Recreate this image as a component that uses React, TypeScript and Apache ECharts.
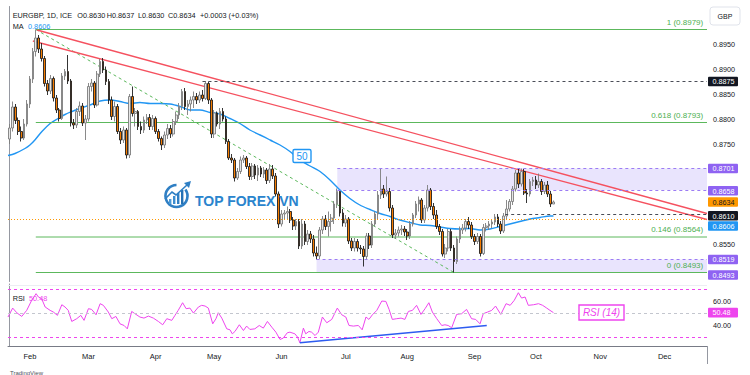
import React, { useEffect, useRef } from 'react';
import * as echarts from 'echarts';

const FONT = "'Liberation Sans', Arial, sans-serif";
const MONTHS = ['Jan', 'Feb', 'Mar', 'Apr', 'May', 'Jun', 'Jul', 'Aug', 'Sep', 'Oct', 'Nov', 'Dec'];
const FIRST_DAY = '2023-01-23';
const LAST_DAY = '2023-12-21';

// daily candles [open, close, low, high] from 2023-01-23 to 2023-10-10
const CANDLES: number[][] = [
  [0.8760, 0.8782, 0.8750, 0.8790], [0.8782, 0.8824, 0.8775, 0.8835], [0.8824, 0.8797, 0.8790, 0.8830],
  [0.8797, 0.8775, 0.8768, 0.8803], [0.8775, 0.8762, 0.8755, 0.8785], [0.8762, 0.8790, 0.8758, 0.8800],
  [0.8790, 0.8830, 0.8785, 0.8838], [0.8830, 0.8880, 0.8822, 0.8886], [0.8880, 0.8935, 0.8872, 0.8942],
  [0.8935, 0.8962, 0.8925, 0.8979], [0.8962, 0.8940, 0.8932, 0.8968], [0.8940, 0.8921, 0.8915, 0.8952],
  [0.8921, 0.8871, 0.8865, 0.8926], [0.8871, 0.8856, 0.8848, 0.8878], [0.8856, 0.8881, 0.8850, 0.8888],
  [0.8881, 0.8842, 0.8835, 0.8885], [0.8842, 0.8818, 0.8812, 0.8848], [0.8818, 0.8801, 0.8795, 0.8822],
  [0.8801, 0.8886, 0.8798, 0.8892], [0.8886, 0.8895, 0.8878, 0.8900], [0.8895, 0.8876, 0.8870, 0.8928],
  [0.8876, 0.8792, 0.8785, 0.8880], [0.8792, 0.8788, 0.8780, 0.8800], [0.8788, 0.8815, 0.8782, 0.8822],
  [0.8815, 0.8826, 0.8806, 0.8835], [0.8826, 0.8792, 0.8786, 0.8832], [0.8792, 0.8800, 0.8758, 0.8808],
  [0.8800, 0.8865, 0.8795, 0.8872], [0.8865, 0.8872, 0.8855, 0.8880], [0.8872, 0.8828, 0.8822, 0.8876],
  [0.8828, 0.8890, 0.8825, 0.8896], [0.8890, 0.8915, 0.8884, 0.8920], [0.8915, 0.8898, 0.8892, 0.8922],
  [0.8898, 0.8875, 0.8868, 0.8905], [0.8875, 0.8838, 0.8830, 0.8880], [0.8838, 0.8805, 0.8798, 0.8845],
  [0.8805, 0.8825, 0.8795, 0.8835], [0.8825, 0.8775, 0.8770, 0.8830], [0.8775, 0.8758, 0.8750, 0.8782],
  [0.8758, 0.8778, 0.8752, 0.8785], [0.8778, 0.8728, 0.8721, 0.8782], [0.8728, 0.8845, 0.8722, 0.8850],
  [0.8845, 0.8811, 0.8805, 0.8865], [0.8811, 0.8815, 0.8785, 0.8822], [0.8815, 0.8785, 0.8778, 0.8818],
  [0.8785, 0.8778, 0.8770, 0.8795], [0.8778, 0.8798, 0.8772, 0.8805], [0.8798, 0.8803, 0.8790, 0.8810],
  [0.8803, 0.8785, 0.8778, 0.8810], [0.8785, 0.8801, 0.8778, 0.8808], [0.8801, 0.8775, 0.8770, 0.8805],
  [0.8775, 0.8761, 0.8755, 0.8780], [0.8761, 0.8748, 0.8738, 0.8765], [0.8748, 0.8768, 0.8742, 0.8775],
  [0.8768, 0.8781, 0.8760, 0.8790], [0.8781, 0.8770, 0.8762, 0.8788], [0.8770, 0.8795, 0.8765, 0.8800],
  [0.8795, 0.8808, 0.8788, 0.8815], [0.8808, 0.8825, 0.8800, 0.8832], [0.8825, 0.8855, 0.8818, 0.8860],
  [0.8855, 0.8825, 0.8818, 0.8862], [0.8825, 0.8830, 0.8808, 0.8838], [0.8830, 0.8838, 0.8815, 0.8845],
  [0.8838, 0.8845, 0.8822, 0.8855], [0.8845, 0.8838, 0.8830, 0.8852], [0.8838, 0.8848, 0.8832, 0.8855],
  [0.8848, 0.8841, 0.8835, 0.8858], [0.8841, 0.8871, 0.8838, 0.8876], [0.8871, 0.8838, 0.8830, 0.8875],
  [0.8838, 0.8770, 0.8762, 0.8842], [0.8770, 0.8812, 0.8762, 0.8818], [0.8812, 0.8790, 0.8785, 0.8815],
  [0.8790, 0.8815, 0.8780, 0.8822], [0.8815, 0.8800, 0.8795, 0.8822], [0.8800, 0.8755, 0.8750, 0.8805],
  [0.8755, 0.8722, 0.8718, 0.8760], [0.8722, 0.8718, 0.8712, 0.8730], [0.8718, 0.8682, 0.8675, 0.8722],
  [0.8682, 0.8695, 0.8678, 0.8702], [0.8695, 0.8718, 0.8690, 0.8725], [0.8718, 0.8722, 0.8712, 0.8728],
  [0.8722, 0.8705, 0.8700, 0.8726], [0.8705, 0.8685, 0.8678, 0.8712], [0.8685, 0.8706, 0.8678, 0.8712],
  [0.8706, 0.8688, 0.8680, 0.8710], [0.8688, 0.8702, 0.8676, 0.8708], [0.8702, 0.8690, 0.8684, 0.8706],
  [0.8690, 0.8698, 0.8682, 0.8704], [0.8698, 0.8677, 0.8670, 0.8702], [0.8677, 0.8700, 0.8672, 0.8710],
  [0.8700, 0.8686, 0.8680, 0.8708], [0.8686, 0.8650, 0.8645, 0.8692], [0.8650, 0.8590, 0.8582, 0.8655],
  [0.8590, 0.8610, 0.8585, 0.8618], [0.8610, 0.8612, 0.8598, 0.8618], [0.8612, 0.8615, 0.8600, 0.8625],
  [0.8615, 0.8598, 0.8592, 0.8620], [0.8598, 0.8586, 0.8578, 0.8604], [0.8586, 0.8595, 0.8578, 0.8600],
  [0.8595, 0.8546, 0.8540, 0.8600], [0.8546, 0.8590, 0.8540, 0.8600], [0.8590, 0.8555, 0.8548, 0.8596],
  [0.8555, 0.8570, 0.8548, 0.8578], [0.8570, 0.8560, 0.8552, 0.8576], [0.8560, 0.8532, 0.8525, 0.8568],
  [0.8532, 0.8526, 0.8519, 0.8545], [0.8526, 0.8578, 0.8520, 0.8584], [0.8578, 0.8600, 0.8570, 0.8606],
  [0.8600, 0.8585, 0.8578, 0.8608], [0.8585, 0.8595, 0.8565, 0.8615], [0.8595, 0.8602, 0.8575, 0.8610],
  [0.8602, 0.8630, 0.8590, 0.8636], [0.8630, 0.8655, 0.8622, 0.8661], [0.8655, 0.8612, 0.8605, 0.8658],
  [0.8612, 0.8592, 0.8585, 0.8620], [0.8592, 0.8600, 0.8584, 0.8608], [0.8600, 0.8556, 0.8550, 0.8604],
  [0.8556, 0.8542, 0.8536, 0.8562], [0.8542, 0.8555, 0.8535, 0.8562], [0.8555, 0.8542, 0.8535, 0.8560],
  [0.8542, 0.8540, 0.8530, 0.8548], [0.8540, 0.8525, 0.8505, 0.8546], [0.8525, 0.8566, 0.8520, 0.8572],
  [0.8566, 0.8548, 0.8540, 0.8572], [0.8548, 0.8590, 0.8542, 0.8596], [0.8590, 0.8610, 0.8585, 0.8615],
  [0.8610, 0.8648, 0.8600, 0.8656], [0.8648, 0.8660, 0.8640, 0.8701], [0.8660, 0.8650, 0.8642, 0.8668],
  [0.8650, 0.8655, 0.8645, 0.8685], [0.8655, 0.8622, 0.8615, 0.8662], [0.8622, 0.8568, 0.8562, 0.8628],
  [0.8568, 0.8572, 0.8560, 0.8580], [0.8572, 0.8578, 0.8565, 0.8585], [0.8578, 0.8580, 0.8568, 0.8588],
  [0.8580, 0.8574, 0.8566, 0.8586], [0.8574, 0.8566, 0.8558, 0.8580], [0.8566, 0.8590, 0.8560, 0.8596],
  [0.8590, 0.8608, 0.8585, 0.8612], [0.8608, 0.8630, 0.8602, 0.8636], [0.8630, 0.8638, 0.8615, 0.8645],
  [0.8638, 0.8598, 0.8592, 0.8642], [0.8598, 0.8622, 0.8592, 0.8628], [0.8622, 0.8658, 0.8615, 0.8668],
  [0.8658, 0.8625, 0.8618, 0.8662], [0.8625, 0.8608, 0.8600, 0.8632], [0.8608, 0.8585, 0.8580, 0.8618],
  [0.8585, 0.8575, 0.8568, 0.8590], [0.8575, 0.8530, 0.8525, 0.8580], [0.8530, 0.8542, 0.8522, 0.8550],
  [0.8542, 0.8575, 0.8535, 0.8580], [0.8575, 0.8542, 0.8536, 0.8580], [0.8542, 0.8515, 0.8493, 0.8548],
  [0.8515, 0.8560, 0.8510, 0.8565], [0.8560, 0.8578, 0.8552, 0.8585], [0.8578, 0.8582, 0.8570, 0.8590],
  [0.8582, 0.8595, 0.8575, 0.8600], [0.8595, 0.8588, 0.8580, 0.8604], [0.8588, 0.8565, 0.8560, 0.8594],
  [0.8565, 0.8555, 0.8548, 0.8570], [0.8555, 0.8565, 0.8550, 0.8572], [0.8565, 0.8531, 0.8525, 0.8570],
  [0.8531, 0.8583, 0.8528, 0.8590], [0.8583, 0.8586, 0.8575, 0.8592], [0.8586, 0.8590, 0.8578, 0.8596],
  [0.8590, 0.8594, 0.8582, 0.8600], [0.8594, 0.8604, 0.8588, 0.8610], [0.8604, 0.8590, 0.8584, 0.8610],
  [0.8590, 0.8576, 0.8570, 0.8596], [0.8576, 0.8606, 0.8572, 0.8612], [0.8606, 0.8620, 0.8598, 0.8638],
  [0.8620, 0.8635, 0.8615, 0.8640], [0.8635, 0.8660, 0.8628, 0.8666], [0.8660, 0.8692, 0.8655, 0.8698],
  [0.8692, 0.8670, 0.8662, 0.8700], [0.8670, 0.8695, 0.8665, 0.8701], [0.8695, 0.8652, 0.8648, 0.8700],
  [0.8652, 0.8650, 0.8632, 0.8660], [0.8650, 0.8675, 0.8645, 0.8680], [0.8675, 0.8678, 0.8666, 0.8684],
  [0.8678, 0.8668, 0.8660, 0.8686], [0.8668, 0.8675, 0.8662, 0.8691], [0.8675, 0.8655, 0.8648, 0.8680],
  [0.8655, 0.8668, 0.8650, 0.8674], [0.8668, 0.8650, 0.8644, 0.8676], [0.8650, 0.8630, 0.8624, 0.8656],
  [0.8630, 0.8634, 0.8630, 0.8637],
];

// 50-day MA: [bar position, value]
const MA_POINTS: number[][] = [
  [-0.5, 0.8727], [1.9, 0.8731], [5.3, 0.8741], [7.0, 0.8748], [8.7, 0.8758], [11.1, 0.8775], [13.9, 0.8791],
  [16.6, 0.8801], [19.0, 0.8809], [21.4, 0.8815], [24.1, 0.8821], [27.5, 0.8828], [31.0, 0.8836], [34.4, 0.8838],
  [37.8, 0.8835], [41.2, 0.8831], [44.6, 0.8833], [48.1, 0.8831], [51.5, 0.8831], [54.9, 0.8830], [58.3, 0.8825],
  [61.7, 0.8818], [65.1, 0.8818], [68.6, 0.8813], [72.0, 0.8810], [75.4, 0.8801], [78.8, 0.8791], [82.2, 0.8778],
  [85.7, 0.8768], [89.1, 0.8758], [92.5, 0.8748], [95.9, 0.8735], [99.3, 0.8718], [102.8, 0.8706], [106.2, 0.8695],
  [109.6, 0.8678], [113.0, 0.8658], [116.4, 0.8641], [119.8, 0.8628], [123.3, 0.8619], [126.7, 0.8611],
  [130.1, 0.8605], [133.5, 0.8598], [136.9, 0.8593], [140.4, 0.8588], [143.8, 0.8587], [147.2, 0.8584],
  [150.6, 0.8581], [154.0, 0.8580], [157.4, 0.8581], [160.9, 0.8578], [164.3, 0.8580], [167.7, 0.8585],
  [171.1, 0.8590], [174.5, 0.8595], [178.0, 0.8600], [181.4, 0.8603], [184.8, 0.8606], [186.0, 0.8606],
];

// RSI(14): [bar position, value]
const RSI_POINTS: number[][] = [
  [-0.5, 46.8], [1.1, 54.3], [2.5, 50.4], [4.2, 47.3], [5.9, 52.4], [7.6, 60.8], [9.1, 66.4], [9.9, 63.6],
  [11.0, 62.2], [12.2, 55.2], [13.9, 52.4], [15.0, 51.0], [16.4, 48.2], [17.9, 57.1], [19.0, 55.2], [20.1, 52.4],
  [21.3, 43.1], [23.0, 45.4], [24.4, 48.2], [25.5, 44.0], [27.0, 53.8], [28.1, 53.2], [29.6, 48.7], [31.0, 58.0],
  [32.1, 56.6], [33.8, 51.0], [35.0, 45.4], [36.4, 47.3], [37.8, 41.1], [39.2, 39.7], [40.3, 36.9], [41.8, 51.5],
  [42.9, 49.6], [44.6, 46.8], [46.0, 45.9], [47.5, 47.6], [49.2, 45.9], [50.9, 43.1], [52.4, 40.3], [53.8, 45.4],
  [55.5, 44.0], [56.6, 48.2], [57.7, 52.4], [59.2, 58.8], [60.4, 53.8], [61.7, 54.3], [62.9, 50.1], [64.6, 55.2],
  [65.7, 56.6], [66.9, 56.0], [68.0, 54.3], [69.5, 41.1], [70.6, 45.4], [71.4, 50.4], [72.6, 45.9], [74.3, 36.9],
  [75.4, 36.1], [76.2, 32.7], [77.1, 34.7], [78.6, 40.3], [80.0, 35.5], [81.1, 39.2], [82.2, 36.4], [83.9, 36.9],
  [85.4, 39.7], [86.8, 37.5], [88.2, 43.1], [89.7, 38.3], [91.1, 34.1], [92.5, 28.0], [93.6, 29.1], [95.0, 33.6],
  [95.9, 34.1], [97.6, 32.7], [98.5, 30.0], [99.3, 25.2], [100.5, 37.5], [101.3, 32.7], [102.4, 34.7],
  [103.3, 34.1], [104.5, 31.3], [105.6, 34.1], [107.0, 46.8], [108.5, 42.0], [110.2, 44.8], [112.1, 54.3],
  [113.6, 48.7], [115.0, 46.8], [116.1, 39.7], [117.6, 39.2], [119.3, 39.7], [120.6, 36.1], [121.9, 46.8],
  [122.9, 44.8], [124.1, 48.7], [125.6, 52.4], [127.3, 60.2], [128.7, 59.9], [129.8, 53.2], [130.9, 44.8],
  [132.4, 45.4], [133.9, 45.9], [135.2, 44.8], [136.4, 51.5], [137.8, 52.4], [139.2, 56.6], [140.7, 49.0],
  [142.1, 53.8], [143.4, 58.8], [144.6, 51.0], [146.1, 45.4], [147.8, 39.7], [148.9, 40.3], [150.0, 39.7],
  [151.2, 37.8], [152.9, 49.0], [154.6, 49.6], [156.3, 53.2], [158.0, 45.4], [159.4, 44.8], [160.9, 41.1],
  [162.0, 49.6], [163.5, 51.0], [164.9, 52.4], [166.2, 56.0], [168.0, 49.0], [169.8, 58.0], [171.2, 56.6],
  [172.6, 60.8], [174.0, 67.2], [175.1, 62.7], [176.3, 63.6], [177.4, 56.6], [179.2, 57.1], [180.9, 58.0],
  [182.3, 56.6], [183.7, 54.3], [184.8, 52.4], [186.0, 50.48],
];

const PRICE_TICKS = ['0.8950', '0.8900', '0.8850', '0.8800', '0.8750', '0.8550'];
const RSI_TICKS = ['40.00', '60.00'];
const RSI_BANDS = [70, 50, 30];

const FIB_RATIOS = ['1', '0.618', '0.146', '0'];
const FIB_PRICES = [0.8979, 0.8793, 0.8564, 0.8493];
const FIB_FROM = 9;
const FIB_DIAGONAL = [[9, 0.8979], [152, 0.8493]];
const TREND_UPPER = [[9.4, 0.8978], [238.5, 0.8611]];
const TREND_LOWER = [[8.0, 0.8956], [238.5, 0.8599]];
const RSI_TREND = [[99.3, 25.2], [163.2, 39.7]];
const ZONE_HIGH = [112.1, 0.8701, 0.8658];
const ZONE_LOW = [105.0, 0.8519, 0.8493];
const LEVEL_APRIL = [66, 0.8875];
const LEVEL_SEPT = [169.5, 0.8610];
const LAST_PRICE = 0.8634;
const MA_LAST = 0.8606;

function weekdays(from: string, to: string): string[] {
  const out: string[] = [];
  const d = new Date(from + 'T00:00:00Z');
  const end = new Date(to + 'T00:00:00Z');
  while (d <= end) {
    const wd = d.getUTCDay();
    if (wd !== 0 && wd !== 6) out.push(d.toISOString().slice(0, 10));
    d.setUTCDate(d.getUTCDate() + 1);
  }
  return out;
}

const DATES = weekdays(FIRST_DAY, LAST_DAY);
const XMAX = DATES.length - 0.5;

const RED = '#f5515f';
const GREEN = '#4caf50';
const BLUE = '#2196f3';
const PURPLE = '#8f63f2';
const MAGENTA = '#ee45ee';
const INK = '#131722';

export default function App() {
  const ref = useRef<HTMLDivElement>(null);

  useEffect(() => {
    if (!ref.current) return;
    const chart = echarts.init(ref.current, undefined, { renderer: 'svg' });

    const seg = (name: string, pts: number[][], color: string, width: number, type: any = 'solid', xi = 1, yi = 0) => ({
      name, type: 'line', xAxisIndex: xi, yAxisIndex: yi, data: pts, symbol: 'none', silent: true,
      lineStyle: { color, width, type }, z: 3,
    });

    const option: any = {
      animation: false,
      backgroundColor: '#ffffff',
      textStyle: { fontFamily: FONT },
      grid: [
        { left: 8, right: 43, top: 6.5, height: 275 },
        { left: 8, right: 43, top: 284, height: 62 },
      ],
      xAxis: [
        { type: 'category', gridIndex: 0, data: DATES, boundaryGap: true, show: false },
        { type: 'value', gridIndex: 0, min: -0.5, max: XMAX, show: false },
        {
          type: 'category', gridIndex: 1, data: DATES, boundaryGap: true,
          axisLine: { show: true, lineStyle: { color: '#787b86', width: 1 } },
          axisTick: { show: false },
          splitLine: { show: false },
          axisLabel: {
            interval: (i: number, v: string) => i > 0 && v.slice(5, 7) !== DATES[i - 1].slice(5, 7),
            formatter: (v: string) => MONTHS[parseInt(v.slice(5, 7), 10) - 1],
            fontSize: 7.5, color: INK, margin: 6, fontFamily: FONT,
          },
        },
        { type: 'value', gridIndex: 1, min: -0.5, max: XMAX, show: false },
      ],
      yAxis: [
        {
          type: 'value', gridIndex: 0, position: 'right', min: 0.8475, max: 0.9025, interval: 0.0025,
          axisLine: { show: true, lineStyle: { color: '#9598a1' } },
          axisTick: { show: false }, splitLine: { show: false },
          axisLabel: {
            formatter: (v: number) => { const s = v.toFixed(4); return PRICE_TICKS.includes(s) ? s : ''; },
            fontSize: 7.2, color: INK, margin: 6, fontFamily: FONT,
          },
        },
        {
          type: 'value', gridIndex: 1, position: 'right', min: 22.5, max: 74.5, interval: 2.5,
          axisLine: { show: true, lineStyle: { color: '#9598a1' } },
          axisTick: { show: false }, splitLine: { show: false },
          axisLabel: {
            formatter: (v: number) => { const s = v.toFixed(2); return RSI_TICKS.includes(s) ? s : ''; },
            fontSize: 7.2, color: INK, margin: 6, fontFamily: FONT,
          },
        },
      ],
      series: [
        {
          name: 'EURGBP', type: 'candlestick', xAxisIndex: 0, yAxisIndex: 0, data: CANDLES,
          barWidth: 2.2, z: 4,
          itemStyle: { color: '#e6e6e6', color0: '#f57c00', borderColor: '#7d7d7d', borderColor0: '#1e1e1e', borderWidth: 0.9 },
          markLine: {
            silent: true, symbol: ['none', 'none'], label: { show: false },
            lineStyle: { color: '#ff9800', type: [1, 2], width: 1 },
            data: [{ yAxis: LAST_PRICE }],
          },
        },
        {
          name: 'MA', type: 'line', xAxisIndex: 1, yAxisIndex: 0, data: MA_POINTS, symbol: 'none', smooth: 0.3,
          lineStyle: { color: BLUE, width: 1.4 }, z: 3, silent: true,
          markArea: {
            silent: true,
            itemStyle: { color: 'rgba(120,90,240,0.16)' },
            data: [
              [{ coord: [ZONE_HIGH[0], ZONE_HIGH[1]] }, { coord: [XMAX, ZONE_HIGH[2]] }],
              [{ coord: [ZONE_LOW[0], ZONE_LOW[1]] }, { coord: [XMAX, ZONE_LOW[2]] }],
            ],
          },
          markLine: {
            silent: true, symbol: ['none', 'none'], label: { show: false },
            lineStyle: { color: '#9c7cf4', type: [3, 3], width: 1 },
            data: [
              [{ coord: [ZONE_HIGH[0], ZONE_HIGH[1]] }, { coord: [XMAX, ZONE_HIGH[1]] }],
              [{ coord: [ZONE_HIGH[0], ZONE_HIGH[2]] }, { coord: [XMAX, ZONE_HIGH[2]] }],
              [{ coord: [ZONE_LOW[0], ZONE_LOW[1]] }, { coord: [XMAX, ZONE_LOW[1]] }],
              [{ coord: LEVEL_APRIL, lineStyle: { color: '#4a4d57', type: [3, 3], width: 1 } }, { coord: [XMAX, LEVEL_APRIL[1]] }],
              [{ coord: LEVEL_SEPT, lineStyle: { color: '#4a4d57', type: [3, 3], width: 1 } }, { coord: [XMAX, LEVEL_SEPT[1]] }],
            ],
          },
        },
        ...FIB_PRICES.map((p, i) => seg('Fib ' + FIB_RATIOS[i], [[FIB_FROM, p], [XMAX, p]], '#5cb85c', 1)),
        seg('Fib trend', FIB_DIAGONAL, '#5cb85c', 1, [3, 3]),
        seg('Trend upper', TREND_UPPER, RED, 1.3),
        seg('Trend lower', TREND_LOWER, RED, 1.3),
        {
          name: 'RSI', type: 'line', xAxisIndex: 3, yAxisIndex: 1, data: RSI_POINTS, symbol: 'none',
          lineStyle: { color: MAGENTA, width: 1 }, z: 3, silent: true,
          markLine: {
            silent: true, symbol: ['none', 'none'], label: { show: false },
            data: RSI_BANDS.map((b) => ({
              yAxis: b,
              lineStyle: { color: b === 50 ? '#c3c6ce' : MAGENTA, type: [3, 3], width: 1 },
            })),
          },
        },
        seg('RSI trend', RSI_TREND, '#2d5bf0', 1.6, 'solid', 3, 1),
      ],
    };
    chart.setOption(option);

    const yP = (p: number) => chart.convertToPixel({ yAxisIndex: 0 }, p) as number;
    const yR = (r: number) => chart.convertToPixel({ yAxisIndex: 1 }, r) as number;
    const xV = (v: number) => chart.convertToPixel({ xAxisIndex: 1 }, v) as number;

    const txt = (x: number, y: number, text: string, size: number, fill: string, extra: any = {}) => ({
      type: 'text', x, y, z: 100,
      style: { text, fill, fontSize: size, fontFamily: FONT, align: 'left', verticalAlign: 'middle', ...extra },
    });
    const tag = (y: number, text: string, bg: string, fg = '#ffffff') => ([
      { type: 'rect', z: 100, shape: { x: 708, y: y - 4.8, width: 30, height: 9.6, r: 1 }, style: { fill: bg } },
      txt(712.5, y + 0.3, text, 7.2, fg),
    ]);

    const last = CANDLES[CANDLES.length - 1];
    const graphics: any[] = [
      // header
      txt(12.7, 15, 'EURGBP, 1D, ICE', 7.3, INK),
      txt(77.3, 15, 'O' + last[0].toFixed(4), 7.3, INK),
      txt(106.7, 15, 'H' + last[3].toFixed(4), 7.3, INK),
      txt(138, 15, 'L' + last[2].toFixed(4), 7.3, INK),
      txt(168, 15, 'C' + last[1].toFixed(4), 7.3, INK),
      txt(200, 15, '+0.0003 (+0.03%)', 7.3, INK),
      txt(12.7, 26.7, 'MA', 7.3, INK),
      txt(28, 26.7, MA_LAST.toFixed(4), 7.3, BLUE),
      // RSI legend
      txt(12.7, 298, 'RSI', 7.3, INK),
      txt(29, 298, RSI_POINTS[RSI_POINTS.length - 1][1].toFixed(2), 7.3, MAGENTA),
      // GBP box
      { type: 'rect', z: 100, shape: { x: 710, y: 7, width: 30, height: 18, r: 3 }, style: { fill: '#ffffff', stroke: '#e0e3eb', lineWidth: 1 } },
      txt(725, 16, 'GBP', 7, INK, { align: 'center' }),
      // right axis separator down to the time scale
      { type: 'line', z: 100, shape: { x1: 707.5, y1: 346, x2: 707.5, y2: 364 }, style: { stroke: '#9598a1', lineWidth: 1 } },
      // pane separator
      { type: 'line', z: 1, shape: { x1: 8, y1: 285.5, x2: 707, y2: 285.5 }, style: { stroke: '#eceef2', lineWidth: 1 } },
      // MA "50" label
      { type: 'rect', z: 100, shape: { x: 293, y: 149.5, width: 18, height: 13, r: 1.5 }, style: { fill: '#ffffff', stroke: BLUE, lineWidth: 1.4 } },
      txt(302, 156.3, '50', 10, BLUE, { align: 'center' }),
      // RSI (14) label
      { type: 'rect', z: 100, shape: { x: 579, y: 305, width: 45, height: 15 }, style: { fill: '#ffffff', stroke: MAGENTA, lineWidth: 1.4 } },
      txt(601.5, 312.8, 'RSI (14)', 10, MAGENTA, { align: 'center', fontStyle: 'italic' }),
      // TradingView footer
      txt(10, 372.5, 'TradingView', 6, '#50535e'),
      // logo
      { type: 'arc', z: 100, shape: { cx: 176.5, cy: 196, r: 11, startAngle: -Math.PI * 0.2, endAngle: Math.PI * 1.5, clockwise: true }, style: { stroke: '#2f7fc4', lineWidth: 2.6, fill: 'none' } },
      { type: 'rect', z: 100, shape: { x: 169, y: 199, width: 2.4, height: 5 }, style: { fill: '#4a9ad8' } },
      { type: 'rect', z: 100, shape: { x: 173, y: 196, width: 2.4, height: 8 }, style: { fill: '#3b8ccf' } },
      { type: 'rect', z: 100, shape: { x: 177, y: 193, width: 2.4, height: 11 }, style: { fill: '#2f7fc4' } },
      { type: 'rect', z: 100, shape: { x: 181, y: 190, width: 2.4, height: 14 }, style: { fill: '#2470b3' } },
      { type: 'polyline', z: 100, shape: { points: [[165, 199], [172, 192], [176, 195], [187, 185]] }, style: { stroke: '#2f7fc4', lineWidth: 1.6, fill: 'none' } },
      { type: 'polygon', z: 100, shape: { points: [[191, 181], [184, 183], [189, 188]] }, style: { fill: '#2f7fc4' } },
      txt(195, 201, 'TOP FOREX VN', 14, '#2a84cd', { fontWeight: 'bold' }),
    ];

    // fib level captions
    FIB_PRICES.forEach((p, i) => {
      graphics.push(txt(xV(XMAX - 1.3), yP(p) - 7.5, `${FIB_RATIOS[i]} (${p.toFixed(4)})`, 8, GREEN, { align: 'right' }));
    });

    // price tags on the right scale
    const tags: [number, number, string, string][] = [
      [LEVEL_APRIL[1], 0, INK, '#ffffff'],
      [ZONE_HIGH[1], 0, PURPLE, '#ffffff'],
      [ZONE_HIGH[2], 0.8, PURPLE, '#ffffff'],
      [LAST_PRICE, 0, '#ff9800', INK],
      [LEVEL_SEPT[1], 1.8, INK, '#ffffff'],
      [MA_LAST, 10, BLUE, '#ffffff'],
      [ZONE_LOW[1], 0, PURPLE, '#ffffff'],
      [ZONE_LOW[2], 2.5, PURPLE, '#ffffff'],
    ];
    tags.forEach(([p, shift, bg, fg]) => graphics.push(...tag(yP(p) + shift, p.toFixed(4), bg, fg)));
    const rsiLast = RSI_POINTS[RSI_POINTS.length - 1][1];
    graphics.push(...tag(yR(rsiLast), rsiLast.toFixed(2), MAGENTA));

    chart.setOption({ graphic: graphics });

    return () => chart.dispose();
  }, []);

  return (
    <div
      ref={ref}
      style={{ position: 'fixed', left: 0, top: 0, width: 750, height: 375, background: '#ffffff' }}
    />
  );
}
